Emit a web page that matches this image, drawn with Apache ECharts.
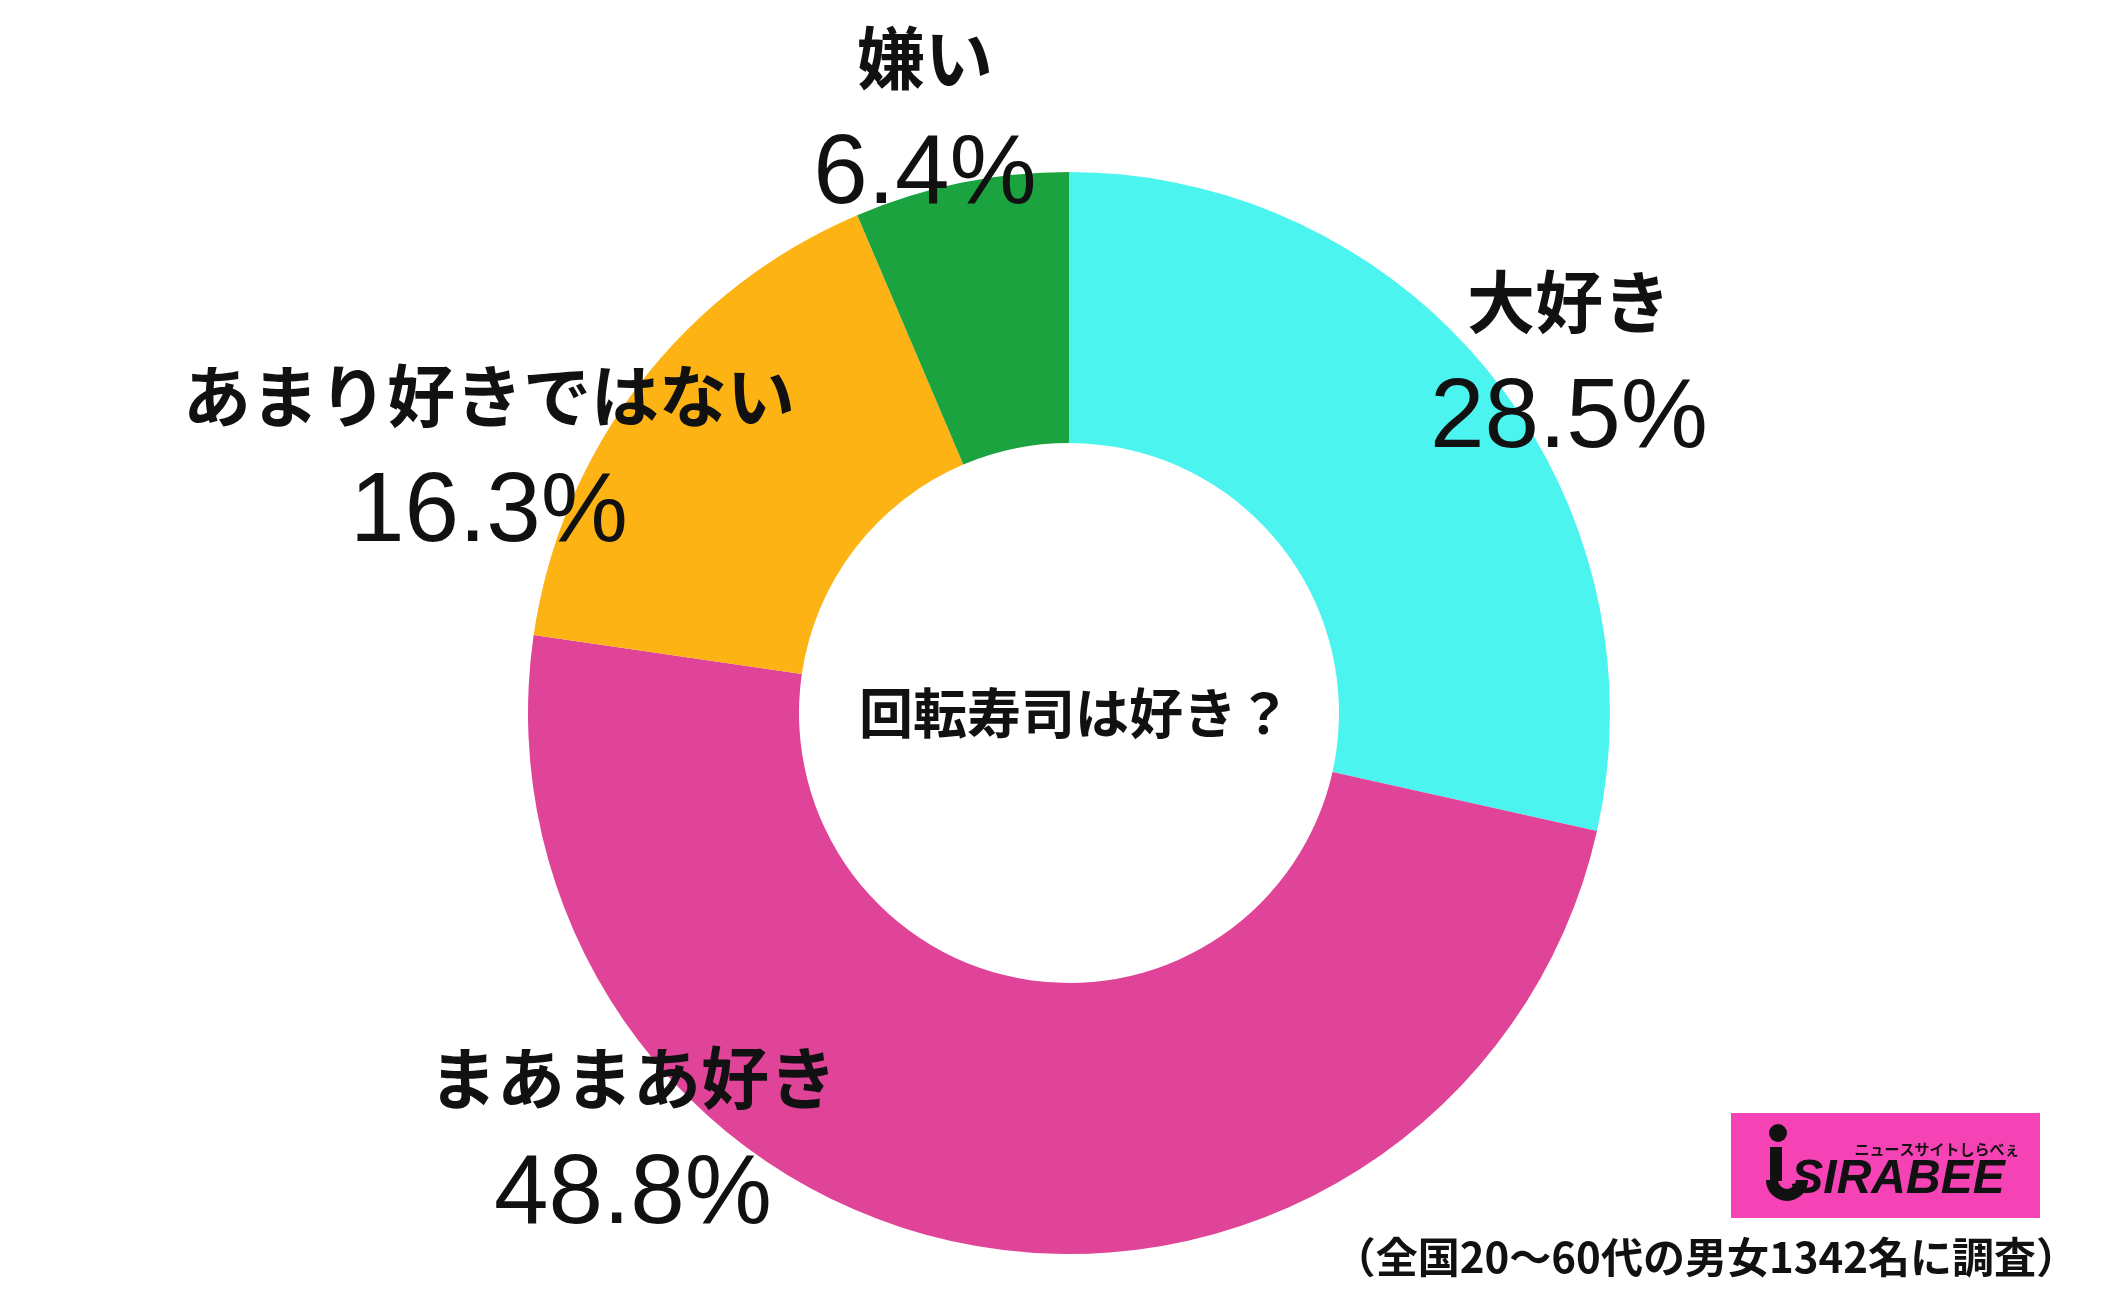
<!DOCTYPE html>
<html>
<head>
<meta charset="utf-8">
<style>
  html, body { margin: 0; padding: 0; background: #fff; }
  #main { width: 2104px; height: 1294px; }
</style>
<script src="https://cdn.jsdelivr.net/npm/echarts@6/dist/echarts.min.js"></script>
</head>
<body>
<div id="main"></div>
<script>
// 回転寿司は好き？ データ
const categories = ['大好き', 'まあまあ好き', 'あまり好きではない', '嫌い']
const values = [28.5, 48.8, 16.3, 6.4]
const colors = ['#4cf4ef', '#df4498', '#fdb313', '#1ba33f']
const centerTitle = '回転寿司は好き？'
const footNote = '（全国20〜60代の男女1342名に調査）'
const logoText = 'SIRABEE'
const logoSub = 'ニュースサイトしらべぇ'

// ラベル位置（ラベル名の中心）
const labelPos = [
  [1569, 302],
  [633, 1078],
  [489, 396],
  [925, 58]
]

const myChart = echarts.init(document.getElementById('main'))
const pieData = categories.map((name, i) => ({
  name: name,
  value: values[i],
  itemStyle: { color: colors[i] }
}))

const option = {
  animation: false,
  backgroundColor: '#ffffff',
  series: [
    {
      type: 'pie',
      center: [1069, 713],
      radius: [270, 541],
      startAngle: 90,
      clockwise: true,
      silent: true,
      data: pieData,
      itemStyle: { borderWidth: 0 },
      labelLine: { show: false },
      label: {
        show: true,
        position: 'outside',
        overflow: 'none',
        formatter: p => '{n|' + p.name + '}\n{p|' + p.value.toFixed(1) + '%}',
        rich: {
          n: {
            fontFamily: 'Noto Sans CJK JP',
            fontWeight: 'bold',
            fontSize: 68,
            lineHeight: 100,
            color: '#111',
            align: 'center'
          },
          p: {
            fontFamily: 'Liberation Sans',
            fontSize: 98,
            lineHeight: 136,
            color: '#111',
            align: 'center'
          }
        }
      },
      labelLayout: params => {
        const pos = labelPos[params.dataIndex]
        return {
          x: pos[0],
          y: pos[1] - 50,
          align: 'center',
          verticalAlign: 'top',
          hideOverlap: false
        }
      }
    }
  ],
  graphic: [
    {
      type: 'text',
      x: 1075,
      y: 713,
      style: {
        text: centerTitle,
        font: 'bold 54px "Noto Sans CJK JP"',
        fill: '#111',
        textAlign: 'center',
        textVerticalAlign: 'middle'
      }
    },
    {
      type: 'text',
      x: 2078,
      y: 1257,
      style: {
        text: footNote,
        font: 'bold 42px "Noto Sans CJK JP"',
        fill: '#111',
        textAlign: 'right',
        textVerticalAlign: 'middle'
      }
    },
    // ロゴ
    {
      type: 'rect',
      shape: { x: 1731, y: 1113, width: 309, height: 105 },
      style: { fill: '#f542b4' }
    },
    {
      type: 'circle',
      shape: { cx: 1778, cy: 1133, r: 9 },
      style: { fill: '#111' }
    },
    {
      type: 'rect',
      shape: { x: 1770, y: 1147, width: 12, height: 34 },
      style: { fill: '#111' }
    },
    {
      type: 'arc',
      shape: { cx: 1787, cy: 1180, r: 15, startAngle: 0, endAngle: Math.PI, clockwise: true },
      style: { stroke: '#111', lineWidth: 12, fill: null }
    },
    {
      type: 'text',
      x: 1898,
      y: 1180,
      style: {
        text: logoText,
        font: 'italic bold 48px "Liberation Sans"',
        fill: '#111',
        textAlign: 'center',
        textVerticalAlign: 'middle'
      }
    },
    {
      type: 'text',
      x: 1937,
      y: 1149,
      style: {
        text: logoSub,
        font: 'bold 15px "Noto Sans CJK JP"',
        fill: '#111',
        textAlign: 'center',
        textVerticalAlign: 'middle'
      }
    }
  ]
}
myChart.setOption(option)
window.onresize = () => {
  myChart.resize()
}
</script>
</body>
</html>
